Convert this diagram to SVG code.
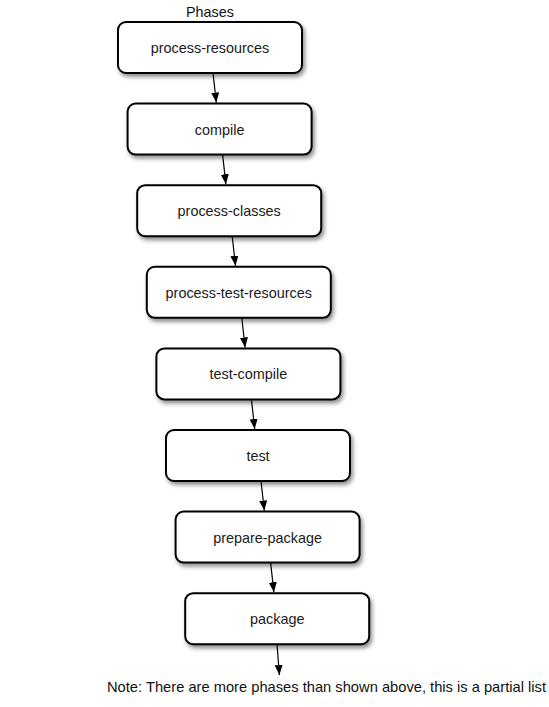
<svg xmlns="http://www.w3.org/2000/svg" width="549" height="707" viewBox="0 0 549 707">
<style>
.box{fill:#fff;stroke:#000;stroke-width:2;filter:url(#sh)}
.lbl{font-family:"Liberation Sans",Arial,sans-serif;font-size:14.4px;fill:#1a1a1a;text-anchor:middle}
.txt{font-family:"Liberation Sans",Arial,sans-serif;font-size:14.4px;fill:#111}
.con{stroke:#000;stroke-width:1.2;fill:none;marker-end:url(#ah)}
</style>
<defs>
<filter id="sh" x="-10%" y="-20%" width="130%" height="160%">
<feDropShadow dx="2" dy="3" stdDeviation="2" flood-color="#000" flood-opacity="0.45"/>
</filter>
<marker id="ah" markerWidth="12" markerHeight="10" refX="10" refY="4" orient="auto" markerUnits="userSpaceOnUse">
<path d="M0,0 L10,4 L0,8 z" fill="#000"/>
</marker>
</defs>
<rect width="549" height="707" fill="#fff"/>
<text class="txt" x="186" y="17">Phases</text>
<g id="connectors">
<line class="con" x1="213" y1="73" x2="216.3" y2="102.6"/>
<line class="con" x1="222.6" y1="154.6" x2="225.9" y2="184.2"/>
<line class="con" x1="232.2" y1="236.2" x2="235.5" y2="265.8"/>
<line class="con" x1="241.8" y1="317.8" x2="245.1" y2="347.4"/>
<line class="con" x1="251.4" y1="399.4" x2="254.7" y2="429"/>
<line class="con" x1="261" y1="481" x2="264.3" y2="510.6"/>
<line class="con" x1="270.6" y1="562.6" x2="273.9" y2="592.2"/>
<line class="con" x1="277" y1="644.2" x2="279.4" y2="675"/>
</g>
<g id="n1"><rect class="box" x="118" y="22" width="184" height="51" rx="8"/><text class="lbl" x="210" y="53">process-resources</text></g>
<g id="n2"><rect class="box" x="127.6" y="103.6" width="184" height="51" rx="8"/><text class="lbl" x="219.6" y="134.6">compile</text></g>
<g id="n3"><rect class="box" x="137.2" y="185.2" width="184" height="51" rx="8"/><text class="lbl" x="229.2" y="216.2">process-classes</text></g>
<g id="n4"><rect class="box" x="146.8" y="266.8" width="184" height="51" rx="8"/><text class="lbl" x="238.8" y="297.8">process-test-resources</text></g>
<g id="n5"><rect class="box" x="156.4" y="348.4" width="184" height="51" rx="8"/><text class="lbl" x="248.4" y="379.4">test-compile</text></g>
<g id="n6"><rect class="box" x="166" y="430" width="184" height="51" rx="8"/><text class="lbl" x="258" y="461">test</text></g>
<g id="n7"><rect class="box" x="175.6" y="511.6" width="184" height="51" rx="8"/><text class="lbl" x="267.6" y="542.6">prepare-package</text></g>
<g id="n8"><rect class="box" x="185.2" y="593.2" width="184" height="51" rx="8"/><text class="lbl" x="277.2" y="624.2">package</text></g>
<text class="txt" x="107" y="692" textLength="439" lengthAdjust="spacingAndGlyphs">Note: There are more phases than shown above, this is a partial list</text>
</svg>
